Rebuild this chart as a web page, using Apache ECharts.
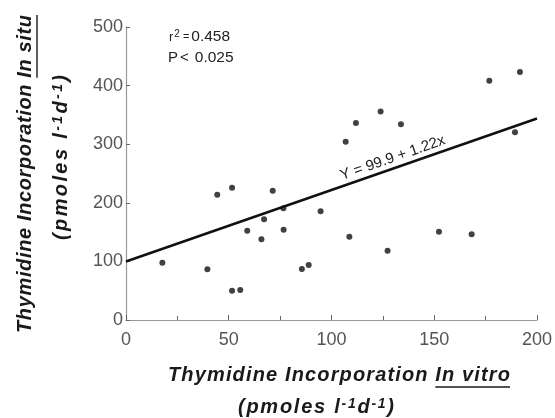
<!DOCTYPE html>
<html><head><meta charset="utf-8">
<script src="https://cdn.jsdelivr.net/npm/echarts@6/dist/echarts.min.js"></script>
<style>html,body{margin:0;padding:0;background:#fff}#c{width:555px;height:418px}</style>
</head><body><div id="c"></div>
<script>
// ---- data ----
const xTicks = [0, 50, 100, 150, 200];
const yTicks = [0, 100, 200, 300, 400, 500];
const inVitro = [17.7, 39.6, 44.4, 51.6, 51.6, 55.6, 59.0, 65.9, 67.2, 71.4, 76.6, 76.7, 85.6, 88.9, 94.7, 106.9, 108.7, 111.9, 123.9, 133.8, 127.3, 152.3, 168.2, 176.8, 191.7, 189.3];
const inSitu  = [97.8, 86.5, 213.9, 225.8, 50, 51.2, 152.4, 137.7, 171.8, 220.7, 190.6, 154.1, 87, 93.9, 185.5, 304.3, 142.2, 336, 356, 334, 118.3, 150.7, 146.2, 408.4, 423.2, 320.3];
const fitX = [0, 200];
const fitY = [99.9, 343.9];
const fitLabel = 'Y = 99.9 + 1.22x';
const r2Value = '0.458';
const pValue = '0.025';
const xTitle1 = 'Thymidine Incorporation ';
const xTitleU = 'In vitro';
const yTitle1 = 'Thymidine Incorporation ';
const yTitleU = 'In situ';
const unitParts = [['(pmoles l', 'n'], ['-1', 's'], ['d', 'n'], ['-1', 's'], [')', 'n']];

const FF = "'Liberation Sans', Arial, Helvetica, sans-serif";
const chart = echarts.init(document.getElementById('c'), null, {renderer: 'canvas'});

const points = inVitro.map((x, i) => [x, inSitu[i]]);
const fit = fitX.map((x, i) => [x, fitY[i]]);

chart.setOption({
  animation: false,
  backgroundColor: '#fff',
  grid: {left: 126, right: 18, top: 27, bottom: 98},
  xAxis: {
    type: 'value', min: xTicks[0], max: xTicks[xTicks.length - 1], interval: 50,
    axisLine: {show: true, lineStyle: {color: '#999', width: 1.2}},
    axisTick: {show: true, inside: true, length: 5, lineStyle: {color: '#666'}},
    minorTick: {show: true, splitNumber: 2, length: 4, lineStyle: {color: '#666'}},
    splitLine: {show: false},
    axisLabel: {color: '#555', fontSize: 18, fontFamily: FF, margin: 11}
  },
  yAxis: {
    type: 'value', min: yTicks[0], max: yTicks[yTicks.length - 1], interval: 100,
    axisLine: {show: true, lineStyle: {color: '#999', width: 1.2}},
    axisTick: {show: true, inside: true, length: 4, lineStyle: {color: '#666'}},
    splitLine: {show: false},
    axisLabel: {color: '#555', fontSize: 18, fontFamily: FF, margin: 3}
  },
  series: [
    {type: 'scatter', data: points, symbol: 'circle', symbolSize: 6, itemStyle: {color: '#111'}, z: 3},
    {type: 'line', data: fit, symbol: 'none', lineStyle: {color: '#111', width: 2.5}, z: 2}
  ]
});

// ---- decorations: letter-spaced titles, underlines, annotations ----
const meas = document.createElement('canvas').getContext('2d');
function fontStr(size) { return 'italic bold ' + size + 'px ' + FF; }
function tw(text, font) { meas.font = font; return meas.measureText(text).width; }
const SIZES = {n: 20, s: 14};
function spaced(parts, target) {
  let natural = 0, n = 0;
  parts.forEach(([t, k]) => { for (const ch of t) { natural += tw(ch, fontStr(SIZES[k])); n++; } });
  const sp = Math.max(0, (target - natural) / (n - 1));
  let text = '';
  const offsets = []; let acc = 0;
  parts.forEach(([t, k]) => {
    offsets.push(acc);
    for (const ch of t) { text += '{' + k + '|' + ch + '}'; acc += tw(ch, fontStr(SIZES[k])) + sp; }
  });
  offsets.push(acc);
  const rich = {};
  Object.keys(SIZES).forEach(k => {
    rich[k] = {fontStyle: 'italic', fontWeight: 'bold', fontSize: SIZES[k], fontFamily: FF, fill: '#1a1a1a',
               padding: [0, sp, 0, 0], verticalAlign: k === 's' ? 'top' : 'middle'};
  });
  return {text, rich, sp, offsets, width: acc};
}

const g = [];
// x title line 1 (168..510), underline under "In vitro"
const xt = spaced([[xTitle1, 'n'], [xTitleU, 'n']], 342);
const xL = 168, xy1 = 375;
g.push({type: 'text', x: xL, y: xy1, style: {text: xt.text, rich: xt.rich, x: 0, y: 0, align: 'left', verticalAlign: 'middle', fontSize: 20, fontFamily: FF}});
g.push({type: 'line', shape: {x1: xL + xt.offsets[1], y1: xy1 + 12, x2: xL + xt.width - xt.sp, y2: xy1 + 12}, style: {stroke: '#1a1a1a', lineWidth: 1.4}});
// x title line 2 (≈238..394)
const xu = spaced(unitParts, 156);
g.push({type: 'text', x: 238, y: 407, style: {text: xu.text, rich: xu.rich, x: 0, y: 0, align: 'left', verticalAlign: 'middle', fontSize: 20, fontFamily: FF}});

// y title line 1 (rotated, from y=333 up to y=15)
const yt = spaced([[yTitle1, 'n'], [yTitleU, 'n']], 318);
const yB = 333, yx1 = 25;
g.push({type: 'text', x: yx1, y: yB, rotation: Math.PI / 2, style: {text: yt.text, rich: yt.rich, x: 0, y: 0, align: 'left', verticalAlign: 'middle', fontSize: 20, fontFamily: FF}});
g.push({type: 'line', shape: {x1: yx1 + 12, y1: yB - yt.offsets[1], x2: yx1 + 12, y2: yB - (yt.width - yt.sp)}, style: {stroke: '#1a1a1a', lineWidth: 1.4}});
// y title line 2 (rotated, from y=240 up to y=73)
const yu = spaced(unitParts, 165);
g.push({type: 'text', x: 61, y: 240, rotation: Math.PI / 2, style: {text: yu.text, rich: yu.rich, x: 0, y: 0, align: 'left', verticalAlign: 'middle', fontSize: 20, fontFamily: FF}});

// stats annotation
const stF = {fontFamily: FF, fill: '#222'};
g.push({type: 'text', style: {
  text: '{a|r}{b|2}{e|=}{c|' + r2Value + '}', x: 169, y: 37, align: 'left', verticalAlign: 'middle',
  fontSize: 15, fontFamily: FF, fill: '#222',
  rich: {a: Object.assign({fontSize: 13, padding: [0, 1, 0, 0]}, stF),
         b: Object.assign({fontSize: 10, verticalAlign: 'top', padding: [0, 3, 0, 0]}, stF),
         e: Object.assign({fontSize: 11, padding: [0, 2, 0, 0]}, stF),
         c: Object.assign({fontSize: 15.5}, stF)}
}});
g.push({type: 'text', style: {
  text: '{p|P}{l|<}{c|' + pValue + '}', x: 168, y: 58, align: 'left', verticalAlign: 'middle',
  fontSize: 15, fontFamily: FF, fill: '#222',
  rich: {p: Object.assign({fontSize: 15, padding: [0, 2, 0, 0]}, stF),
         l: Object.assign({fontSize: 15, padding: [0, 6, 0, 0]}, stF),
         c: Object.assign({fontSize: 15.5}, stF)}
}});
// fit label along line
const p0 = chart.convertToPixel({gridIndex: 0}, fit[0]);
const p1 = chart.convertToPixel({gridIndex: 0}, fit[1]);
const ang = Math.atan2(p0[1] - p1[1], p1[0] - p0[0]);
const t = 0.657;
const lx = p0[0] + (p1[0] - p0[0]) * t, ly = p0[1] + (p1[1] - p0[1]) * t;
const off = 10;
g.push({type: 'text', x: lx - Math.sin(ang) * off, y: ly - Math.cos(ang) * off, rotation: ang, style: {
  text: fitLabel, x: 0, y: 0, align: 'center', verticalAlign: 'middle', fontSize: 15, fontFamily: FF, fill: '#222'
}});
chart.setOption({graphic: g});
</script></body></html>
